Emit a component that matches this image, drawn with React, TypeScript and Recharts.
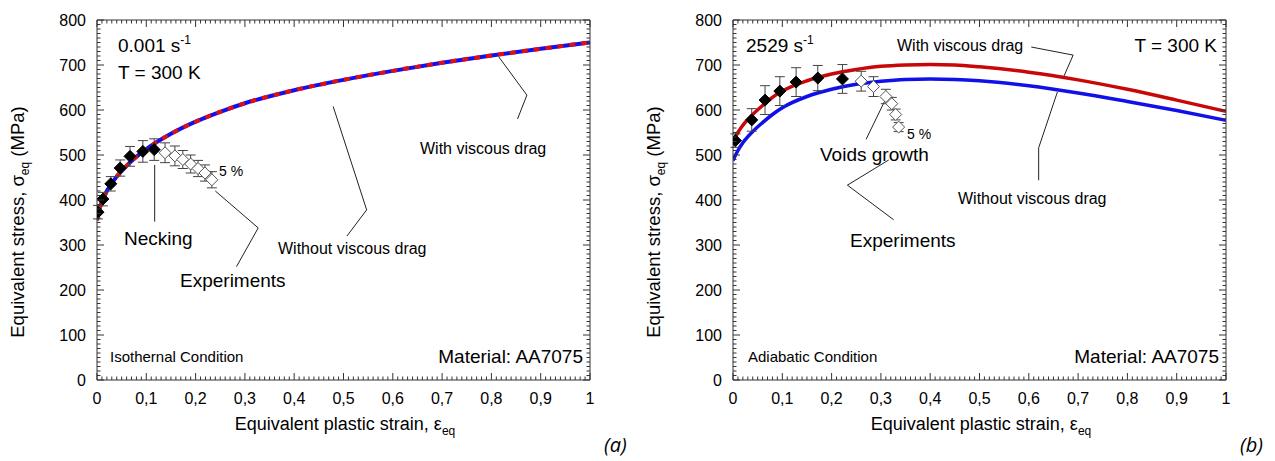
import { ComposedChart, Line, Scatter, ErrorBar, XAxis, YAxis, ReferenceLine } from 'recharts';

// ---- panel (a): 0.001 s-1, isothermal ----
const strainA = [0, 0.005, 0.01, 0.02, 0.04, 0.06, 0.08, 0.1, 0.15, 0.2, 0.25, 0.3, 0.4, 0.5, 0.6, 0.7, 0.8, 0.9, 1];
const withDragA = [355, 380, 396, 420, 452, 476, 496, 513, 547, 574, 596, 615, 644, 667, 687, 705, 721, 736, 750];
const withoutDragA = [355, 380, 396, 420, 452, 476, 496, 513, 547, 574, 596, 615, 644, 667, 687, 705, 721, 736, 750];

const expFilledStrainA = [0.002, 0.012, 0.028, 0.047, 0.067, 0.093, 0.116];
const expFilledStressA = [373, 402, 436, 471, 497, 508, 512];
const expFilledErrA = [15, 15, 16, 18, 22, 24, 24];
const expOpenStrainA = [0.138, 0.158, 0.174, 0.19, 0.205, 0.219, 0.233];
const expOpenStressA = [505, 498, 490, 480, 470, 460, 445];
const expOpenErrA = [22, 22, 20, 20, 18, 18, 18];

// ---- panel (b): 2529 s-1, adiabatic ----
const strainB = [0, 0.01, 0.02, 0.04, 0.06, 0.08, 0.1, 0.15, 0.2, 0.25, 0.3, 0.35, 0.4, 0.45, 0.5, 0.6, 0.7, 0.8, 0.9, 1];
const withDragB = [530, 550, 566, 590, 610, 628, 642, 665, 680, 690, 697, 700, 701, 700, 696, 684, 667, 646, 622, 597];
const withoutDragB = [488, 510, 527, 552, 572, 590, 605, 630, 646, 657, 664, 668, 669, 668, 665, 654, 638, 619, 599, 577];

const expFilledStrainB = [0.005, 0.038, 0.065, 0.095, 0.128, 0.172, 0.222];
const expFilledStressB = [532, 578, 622, 642, 662, 671, 669];
const expFilledErrB = [15, 25, 32, 32, 32, 28, 32];
const expOpenStrainB = [0.26, 0.285, 0.31, 0.322, 0.33, 0.336];
const expOpenStressB = [664, 652, 630, 614, 590, 562];
const expOpenErrB = [22, 22, 16, 14, 12, 10];

// axes
const strainTicks = Array.from({ length: 101 }, (_, i) => i / 100);
const stressTicks = Array.from({ length: 81 }, (_, i) => i * 10);

const FONT = '"Liberation Sans", Arial, sans-serif';
const AXIS = '#333';

const toRows = (xs: number[], ys: number[], errs?: number[]) =>
  xs.map((x, i) => ({ x, y: ys[i], err: errs ? errs[i] : 0 }));

const isMajor = (v: number, step: number) => Math.abs(v / step - Math.round(v / step)) < 1e-6;
const fmtStrain = (v: number) => String(Math.round(v * 10) / 10).replace('.', ',');

function BottomTick(p: any) {
  const major = isMajor(p.payload.value, 0.1);
  return (
    <g>
      <line x1={p.x} x2={p.x} y1={p.y} y2={p.y - (major ? 7 : 3.5)} stroke={AXIS} />
      {major && (
        <text x={p.x} y={p.y + 24} textAnchor="middle" fontSize={16} fontFamily={FONT} fill="#000">
          {fmtStrain(p.payload.value)}
        </text>
      )}
    </g>
  );
}
function TopTick(p: any) {
  const major = isMajor(p.payload.value, 0.1);
  return <line x1={p.x} x2={p.x} y1={p.y} y2={p.y + (major ? 7 : 3.5)} stroke={AXIS} />;
}
function LeftTick(p: any) {
  const major = isMajor(p.payload.value, 100);
  return (
    <g>
      <line x1={p.x} x2={p.x + (major ? 7 : 3.5)} y1={p.y} y2={p.y} stroke={AXIS} />
      {major && (
        <text x={p.x - 11} y={p.y + 6} textAnchor="end" fontSize={16} fontFamily={FONT} fill="#000">
          {p.payload.value}
        </text>
      )}
    </g>
  );
}
function RightTick(p: any) {
  const major = isMajor(p.payload.value, 100);
  return <line x1={p.x} x2={p.x - (major ? 7 : 3.5)} y1={p.y} y2={p.y} stroke={AXIS} />;
}

function Diamond(p: any) {
  const { cx, cy, filled } = p;
  const r = 6;
  return (
    <path
      d={`M${cx},${cy - r}L${cx + r},${cy}L${cx},${cy + r}L${cx - r},${cy}Z`}
      fill={filled ? '#000' : '#fff'}
      stroke={filled ? '#000' : '#555'}
      strokeWidth={1}
    />
  );
}

type Leader = { points: [number, number][] };

function Panel({
  left,
  curves,
  filled,
  open,
  leaders,
  children,
}: {
  left: number;
  curves: { data: { x: number; y: number }[]; color: string; dash?: string; width: number }[];
  filled: { x: number; y: number; err: number }[];
  open: { x: number; y: number; err: number }[];
  leaders: Leader[];
  children: React.ReactNode;
}) {
  return (
    <div style={{ position: 'absolute', left, top: 0, width: 640, height: 461 }}>
      <ComposedChart width={640} height={461} margin={{ top: 19, right: 49, bottom: 80, left: 0 }}>
        <XAxis xAxisId="b" type="number" dataKey="x" domain={[0, 1]} ticks={strainTicks} interval={0}
          height={1} tickSize={0} tickMargin={0} tickLine={false} tick={<BottomTick />} stroke={AXIS} allowDataOverflow />
        <XAxis xAxisId="t" orientation="top" type="number" dataKey="x" domain={[0, 1]} ticks={strainTicks} interval={0}
          height={1} tickSize={0} tickMargin={0} tickLine={false} tick={<TopTick />} stroke={AXIS} allowDataOverflow />
        <YAxis yAxisId="l" type="number" dataKey="y" domain={[0, 800]} ticks={stressTicks} interval={0}
          width={97} tickSize={0} tickMargin={0} tickLine={false} tick={<LeftTick />} stroke={AXIS} allowDataOverflow />
        <YAxis yAxisId="r" orientation="right" type="number" dataKey="y" domain={[0, 800]} ticks={stressTicks} interval={0}
          width={1} tickSize={0} tickMargin={0} tickLine={false} tick={<RightTick />} stroke={AXIS} allowDataOverflow />
        {leaders.flatMap((l, i) =>
          l.points.slice(1).map((pt, j) => (
            <ReferenceLine key={`${i}-${j}`} xAxisId="b" yAxisId="l"
              segment={[{ x: l.points[j][0], y: l.points[j][1] }, { x: pt[0], y: pt[1] }]}
              stroke="#222" strokeWidth={1} ifOverflow="visible" />
          )),
        )}
        {curves.map((c, i) => (
          <Line key={i} xAxisId="b" yAxisId="l" data={c.data} dataKey="y" type="monotone" stroke={c.color}
            strokeWidth={c.width} strokeDasharray={c.dash} dot={false} activeDot={false} isAnimationActive={false} />
        ))}
        <Scatter xAxisId="b" yAxisId="l" data={filled} dataKey="y" shape={<Diamond filled />} isAnimationActive={false}>
          <ErrorBar dataKey="err" direction="y" width={5} stroke="#444" strokeWidth={1} />
        </Scatter>
        <Scatter xAxisId="b" yAxisId="l" data={open} dataKey="y" shape={<Diamond />} isAnimationActive={false}>
          <ErrorBar dataKey="err" direction="y" width={5} stroke="#444" strokeWidth={1} />
        </Scatter>
      </ComposedChart>
      <svg width={640} height={461} style={{ position: 'absolute', left: 0, top: 0, pointerEvents: 'none' }}
        fontFamily={FONT} fill="#000">
        <text transform="translate(24,222) rotate(-90)" textAnchor="middle" fontSize={18.5}>
          Equivalent stress, σ<tspan fontSize={12} dy={5}>eq</tspan>
          <tspan dy={-5}>{'  (MPa)'}</tspan>
        </text>
        <text x={345} y={430} textAnchor="middle" fontSize={18}>
          Equivalent plastic strain, ε<tspan fontSize={12} dy={5}>eq</tspan>
        </text>
        {children}
      </svg>
    </div>
  );
}

export default function App() {
  const curvesA = [
    { data: toRows(strainA, withoutDragA), color: '#1010f0', width: 4 },
    { data: toRows(strainA, withDragA), color: '#e01010', width: 4, dash: '6 6' },
  ];
  const curvesB = [
    { data: toRows(strainB, withoutDragB), color: '#1010e8', width: 3.5 },
    { data: toRows(strainB, withDragB), color: '#c80808', width: 3.5 },
  ];
  const leadersA: Leader[] = [
    { points: [[0.117, 478], [0.117, 352]] },
    { points: [[0.24, 420], [0.327, 338], [0.283, 252]] },
    { points: [[0.479, 608], [0.547, 378], [0.507, 320]] },
    { points: [[0.815, 718], [0.872, 633], [0.853, 580]] },
  ];
  const leadersB: Leader[] = [
    { points: [[0.605, 740], [0.69, 722], [0.67, 672]] },
    { points: [[0.658, 640], [0.62, 516], [0.62, 444]] },
    { points: [[0.27, 535], [0.31, 625]] },
    { points: [[0.316, 489], [0.232, 433], [0.326, 356]] },
  ];
  return (
    <div style={{ position: 'absolute', left: 0, top: 0, width: 1275, height: 461, background: '#fff', fontFamily: FONT }}>
      <Panel left={0} curves={curvesA} filled={toRows(expFilledStrainA, expFilledStressA, expFilledErrA)}
        open={toRows(expOpenStrainA, expOpenStressA, expOpenErrA)} leaders={leadersA}>
        <text x={118} y={52} fontSize={19}>0.001 s<tspan fontSize={12} dy={-8}>-1</tspan></text>
        <text x={118} y={79} fontSize={19}>T = 300 K</text>
        <text x={124} y={245} fontSize={19}>Necking</text>
        <text x={180} y={287} fontSize={19}>Experiments</text>
        <text x={278} y={254} fontSize={16}>Without viscous drag</text>
        <text x={420} y={154} fontSize={16}>With viscous drag</text>
        <text x={219} y={176} fontSize={14}>5 %</text>
        <text x={110} y={362} fontSize={15}>Isothernal Condition</text>
        <text x={583} y={363} fontSize={19} textAnchor="end">Material: AA7075</text>
        <text x={604} y={452} fontSize={20} fontStyle="italic" fontFamily='"Open Sans", sans-serif'>(a)</text>
      </Panel>
      <Panel left={636} curves={curvesB} filled={toRows(expFilledStrainB, expFilledStressB, expFilledErrB)}
        open={toRows(expOpenStrainB, expOpenStressB, expOpenErrB)} leaders={leadersB}>
        <text x={110} y={52} fontSize={19}>2529 s<tspan fontSize={12} dy={-8}>-1</tspan></text>
        <text x={581} y={52} fontSize={19} textAnchor="end">T = 300 K</text>
        <text x={261} y={51} fontSize={16}>With viscous drag</text>
        <text x={184} y={161} fontSize={19}>Voids growth</text>
        <text x={271} y={139} fontSize={14}>5 %</text>
        <text x={322} y={204} fontSize={16}>Without viscous drag</text>
        <text x={214} y={247} fontSize={19}>Experiments</text>
        <text x={112} y={362} fontSize={15}>Adiabatic Condition</text>
        <text x={583} y={363} fontSize={19} textAnchor="end">Material: AA7075</text>
        <text x={604} y={452} fontSize={20} fontStyle="italic" fontFamily='"Open Sans", sans-serif'>(b)</text>
      </Panel>
    </div>
  );
}
